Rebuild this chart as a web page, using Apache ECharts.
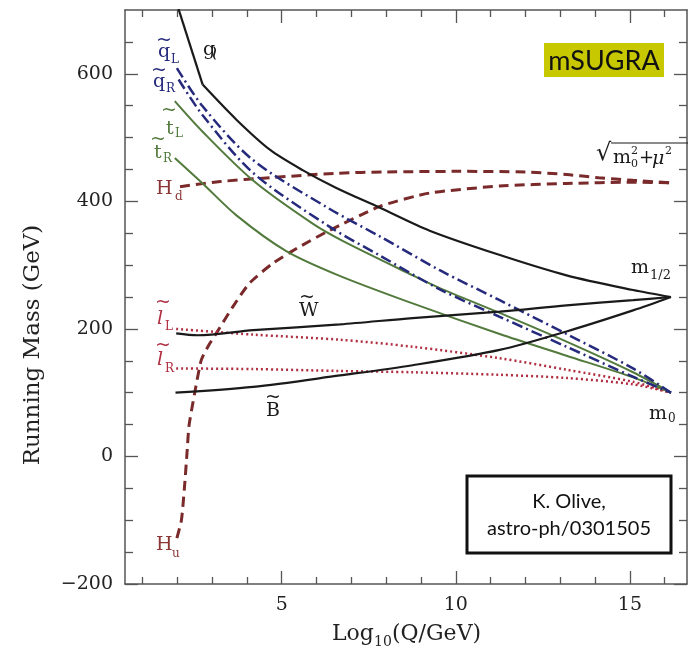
<!DOCTYPE html>
<html><head><meta charset="utf-8">
<script src="https://cdn.jsdelivr.net/npm/echarts@6/dist/echarts.min.js"></script>
<style>html,body{margin:0;padding:0;background:#fff}#c{width:688px;height:651px}</style>
</head><body><div id="c"></div>
<script>
// ---- data (x = log10(Q/GeV), y = running mass in GeV) ----
const xMajorTicks = [5, 10, 15];
const xMinorTicks = [1,2,3,4,6,7,8,9,11,12,13,14,16];
const yMajorTicks = [-200, 0, 200, 400, 600];
const yMinorTicks = [-150,-100,-50,50,100,150,250,300,350,450,500,550,650];

const gluino = [[2.0,708],[2.73,583],[3.7,528],[4.66,481],[5.6,449],[6.57,421],[7.82,390],[9.25,354],[11.2,317],[13.18,284],[15.09,261],[16.18,250]];
const squarkL = [[1.99,609],[2.73,549],[4.17,465],[6.38,388],[7.82,345],[9.54,292],[11.26,245],[13.18,192],[15.09,138],[16.18,100]];
const squarkR = [[2.04,591],[2.73,535],[4.17,445],[6.38,360],[7.82,315],[9.54,262],[11.26,219],[13.18,172],[15.09,125],[16.18,100]];
const stopL = [[1.93,557],[2.73,509],[4.17,433],[5.89,365],[6.75,338],[8.76,284],[9.54,264],[11.26,225],[13.18,180],[15.09,132],[16.18,100]];
const stopR = [[1.93,468],[2.73,428],[3.7,378],[5.13,322],[6.63,284],[8.76,240],[11.26,192],[13.18,158],[15.09,124],[16.18,100]];
const higgsD = [[2.08,423],[3.23,431],[4.66,437],[6.57,444],[8.0,446],[10.0,447],[12.0,446],[13.18,442],[14.1,437],[15.09,433],[16.18,429]];
const higgsU = [[1.99,-128],[2.12,-100],[2.21,-47],[2.28,5],[2.34,49],[2.5,99],[2.69,151],[2.9,174],[3.12,193],[3.6,235],[4.08,272],[4.75,303],[5.52,329],[6.36,354],[7.82,392],[9.25,413],[11.26,424],[13.18,428],[15.09,430],[16.18,429]];
const sleptonL = [[1.97,200],[4.18,191],[6.67,183],[8.76,172],[11.26,154],[13.18,136],[15.09,117],[16.18,100]];
const sleptonR = [[1.97,138],[4.18,137],[6.67,134],[8.76,132],[11.26,128],[13.18,123],[15.09,113],[16.18,100]];
const wino = [[1.97,193],[2.58,190],[4.18,198],[6.67,207],[8.76,217],[11.26,227],[13.18,237],[15.09,245],[16.18,250]];
const bino = [[1.95,100],[4.18,109],[6.67,127],[8.76,143],[11.26,167],[13.18,196],[15.09,229],[16.18,250]];

// ---- styling ----
const SERIF = "'DejaVu Serif', serif";
const SANS = "Lato, 'Open Sans', sans-serif";
const AX = '#555';
const BLACK = '#1a1a1a', NAVY = '#252a7c', GREEN = '#527a3c', MAROON = '#7a2a2a', CRIMSON = '#b02e40';
const X0 = 0.5, X1 = 16.64, Y0 = -200, Y1 = 700;

function xAx(pos, ticks, len, labels, lineShow) {
  return {
    type: 'value', position: pos, min: X0, max: X1,
    axisLine: {show: lineShow, onZero: false, lineStyle: {color: AX, width: 1.5}},
    axisTick: {show: true, inside: true, length: len, customValues: ticks, lineStyle: {color: AX, width: 1.3}},
    axisLabel: labels ? {show: true, customValues: xMajorTicks, margin: 12, color: '#222', fontFamily: SERIF, fontSize: 19} : {show: false},
    splitLine: {show: false}
  };
}
function yAx(pos, ticks, len, labels, lineShow) {
  return {
    type: 'value', position: pos, min: Y0, max: Y1,
    axisLine: {show: lineShow, onZero: false, lineStyle: {color: AX, width: 1.5}},
    axisTick: {show: true, inside: true, length: len, customValues: ticks, lineStyle: {color: AX, width: 1.3}},
    axisLabel: labels ? {show: true, customValues: yMajorTicks, margin: 12, color: '#222', fontFamily: SERIF, fontSize: 19,
      formatter: v => String(v).replace('-', '\u2212')} : {show: false},
    splitLine: {show: false}
  };
}
function line(data, color, width, type, smooth) {
  return {
    type: 'line', data: data, xAxisIndex: 0, yAxisIndex: 0, symbol: 'none', showSymbol: false,
    smooth: smooth === undefined ? 0.3 : smooth, clip: true, silent: true,
    lineStyle: {color: color, width: width, type: type, cap: 'butt'}, z: 3
  };
}
function T(text, x, y, size, color, opt) {
  opt = opt || {};
  const font = (opt.italic ? 'italic ' : '') + size + 'px ' + (opt.fam || SERIF);
  return {type: 'text', x: x, y: y, rotation: opt.rot || 0, z: 100, silent: true,
    style: {text: text, font: font, fill: color, textAlign: opt.align || 'left', align: opt.align || 'left',
      textVerticalAlign: 'middle', verticalAlign: 'middle'}};
}

const chart = echarts.init(document.getElementById('c'));
const graphics = [
  // particle labels
  T('g', 203, 50, 19, BLACK), T('~', 216, 53, 21, BLACK, {rot: Math.PI / 2, align: 'center'}),
  T('~', 164, 40, 19, NAVY, {align: 'center'}), T('q', 158, 52, 19, NAVY), T('L', 171, 60, 12, NAVY),
  T('~', 159, 70, 19, NAVY, {align: 'center'}), T('q', 153, 82, 19, NAVY), T('R', 166, 89, 12, NAVY),
  T('~', 169, 110, 19, GREEN, {align: 'center'}), T('t', 166, 129, 19, GREEN), T('L', 175, 134, 12, GREEN),
  T('~', 158, 139, 19, GREEN, {align: 'center'}), T('t', 154, 153, 19, GREEN), T('R', 163, 159, 12, GREEN),
  T('H', 156, 189, 19, '#8a3636'), T('d', 175, 197, 12, '#8a3636'),
  T('~', 163, 302, 19, CRIMSON, {align: 'center'}), T('l', 157, 319, 19, CRIMSON, {italic: true}), T('L', 165, 327, 12, CRIMSON),
  T('~', 163, 345, 19, CRIMSON, {align: 'center'}), T('l', 157, 360, 19, CRIMSON, {italic: true}), T('R', 165, 369, 12, CRIMSON),
  T('~', 307, 297, 19, BLACK, {align: 'center'}), T('W', 299, 311, 19, BLACK),
  T('~', 273, 397, 19, BLACK, {align: 'center'}), T('B', 266, 411, 19, BLACK),
  T('H', 156, 545, 19, '#8a3636'), T('u', 172, 554, 12, '#8a3636'),
  T('m', 631, 268, 19, BLACK), T('1/2', 650, 276, 13, BLACK),
  T('m', 649, 414, 19, BLACK), T('0', 668, 419, 12, BLACK),
  // sqrt(m0^2 + mu^2)
  T('\u221a', 596, 154, 24, BLACK),
  {type: 'line', z: 100, silent: true, shape: {x1: 611, y1: 143, x2: 688, y2: 143}, style: {stroke: BLACK, lineWidth: 1.2}},
  T('m', 613, 158, 19, BLACK), T('2', 631, 151, 11, BLACK), T('0', 631, 164, 11, BLACK),
  T('+', 639, 158, 18, BLACK), T('\u03bc', 652, 159, 19, BLACK, {italic: true}), T('2', 665, 151, 11, BLACK),
  // mSUGRA box
  {type: 'rect', z: 90, silent: true, shape: {x: 544, y: 43, width: 120, height: 34}, style: {fill: '#c8c800'}},
  T('mSUGRA', 604, 61, 27, '#111', {fam: SANS, align: 'center'}),
  // reference box
  {type: 'rect', z: 90, silent: true, shape: {x: 467, y: 476, width: 204, height: 77}, style: {fill: '#fff', stroke: '#111', lineWidth: 3}},
  T('K. Olive,', 569, 502, 20, '#111', {fam: SANS, align: 'center'}),
  T('astro-ph/0301505', 569, 529, 20, '#111', {fam: SANS, align: 'center'}),
  // axis titles
  T('Running Mass (GeV)', 33, 345, 23, '#222', {align: 'center', rot: Math.PI / 2}),
  T('Log', 332, 634, 22, '#222'), T('10', 374, 642, 14, '#222'), T('(Q/GeV)', 392, 634, 22, '#222')
];

chart.setOption({
  animation: false,
  backgroundColor: '#fff',
  grid: {left: 125, right: 1, top: 10, bottom: 67, containLabel: false},
  xAxis: [
    xAx('bottom', xMajorTicks, 13, true, true),
    xAx('bottom', xMinorTicks, 7, false, false),
    xAx('top', xMajorTicks, 13, false, true),
    xAx('top', xMinorTicks, 7, false, false)
  ],
  yAxis: [
    yAx('left', yMajorTicks, 13, true, true),
    yAx('left', yMinorTicks, 8, false, false),
    yAx('right', yMajorTicks, 13, false, true),
    yAx('right', yMinorTicks, 8, false, false)
  ],
  series: [
    line(higgsD, MAROON, 3, [10, 6]),
    line(higgsU, MAROON, 3, [10, 6], 0.2),
    line(sleptonL, CRIMSON, 2.5, [2, 3]),
    line(sleptonR, CRIMSON, 2.5, [2, 3]),
    line(stopL, GREEN, 2),
    line(stopR, GREEN, 2),
    line(squarkL, NAVY, 2.5, [11, 4, 2, 4]),
    line(squarkR, NAVY, 2.5, [11, 4, 2, 4]),
    line(gluino.slice(0, 2), BLACK, 2.2, 'solid', false),
    line(gluino.slice(1), BLACK, 2.2, 'solid'),
    line(wino, BLACK, 2.2, 'solid'),
    line(bino, BLACK, 2.2, 'solid')
  ],
  graphic: graphics
});
</script>
</body></html>
